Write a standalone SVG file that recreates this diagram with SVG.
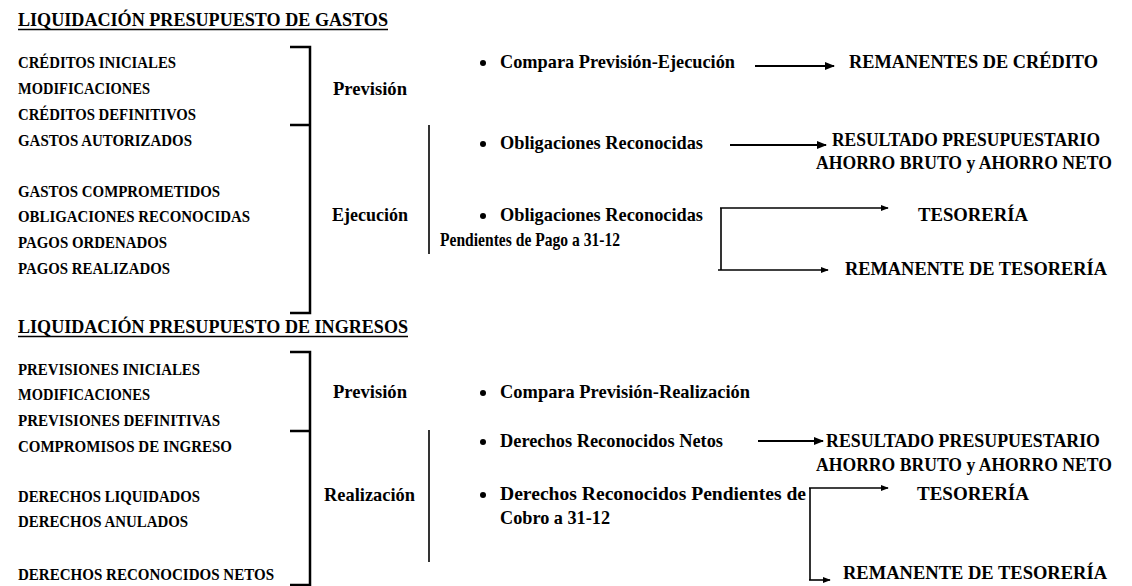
<svg xmlns="http://www.w3.org/2000/svg" width="1132" height="586" viewBox="0 0 1132 586">
  <style>
    text { font-family: "Liberation Serif", "Times New Roman", serif; font-weight: bold; fill: #000; }
    .title { font-size: 19px; }
    .item { font-size: 17px; }
    .phase { font-size: 19px; }
    .note { font-size: 19px; }
    .result { font-size: 19px; }
    .result-wide { font-size: 18px; }
    .brace { fill: none; stroke: #000; stroke-width: 2.5; }
    .rule { fill: none; stroke: #000; stroke-width: 1.6; }
    .arrow { fill: none; stroke: #000; stroke-width: 2; marker-end: url(#head); }
    .branch { fill: none; stroke: #000; stroke-width: 1.6; }
    .branch-arrow { fill: none; stroke: #000; stroke-width: 1.6; marker-end: url(#head); }
    .uline { stroke: #000; stroke-width: 1.5; }
  </style>
  <defs>
    <marker id="head" viewBox="0 0 10 10" refX="9" refY="5" markerWidth="5" markerHeight="5" markerUnits="strokeWidth" orient="auto">
      <path d="M0,1 L10,5 L0,9 Z" fill="#000"/>
    </marker>
  </defs>
  <rect width="1132" height="586" fill="#fff"/>

  <!-- Gastos -->
  <g id="title-gastos">
    <text class="title" x="18" y="26" textLength="370" lengthAdjust="spacingAndGlyphs">LIQUIDACIÓN PRESUPUESTO DE GASTOS</text>
    <line class="uline" x1="18" y1="29.5" x2="388" y2="29.5"/>
  </g>
  <g id="fases-gastos">
    <text class="item" x="18" y="68" textLength="158" lengthAdjust="spacingAndGlyphs">CRÉDITOS INICIALES</text>
    <text class="item" x="18" y="94" textLength="132" lengthAdjust="spacingAndGlyphs">MODIFICACIONES</text>
    <text class="item" x="18" y="120" textLength="178" lengthAdjust="spacingAndGlyphs">CRÉDITOS DEFINITIVOS</text>
    <text class="item" x="18" y="146" textLength="174" lengthAdjust="spacingAndGlyphs">GASTOS AUTORIZADOS</text>
    <text class="item" x="18" y="197" textLength="202" lengthAdjust="spacingAndGlyphs">GASTOS COMPROMETIDOS</text>
    <text class="item" x="18" y="222" textLength="232" lengthAdjust="spacingAndGlyphs">OBLIGACIONES RECONOCIDAS</text>
    <text class="item" x="18" y="248" textLength="149" lengthAdjust="spacingAndGlyphs">PAGOS ORDENADOS</text>
    <text class="item" x="18" y="274" textLength="152" lengthAdjust="spacingAndGlyphs">PAGOS REALIZADOS</text>
  </g>
  <g id="llave-gastos">
    <path class="brace" d="M290,47 H310 V313 H290 M290,125 H310"/>
    <line class="rule" x1="429" y1="125" x2="429" y2="254"/>
  </g>
  <g id="etiquetas-gastos">
    <text class="phase" x="333" y="95" textLength="74" lengthAdjust="spacingAndGlyphs">Previsión</text>
    <text class="phase" x="332" y="221" textLength="76" lengthAdjust="spacingAndGlyphs">Ejecución</text>
  </g>
  <g id="notas-gastos">
    <circle cx="483" cy="63" r="3"/>
    <text class="note" x="500" y="68" textLength="235" lengthAdjust="spacingAndGlyphs">Compara Previsión-Ejecución</text>
    <circle cx="483" cy="144" r="3"/>
    <text class="note" x="500" y="149" textLength="203" lengthAdjust="spacingAndGlyphs">Obligaciones Reconocidas</text>
    <circle cx="483" cy="216" r="3"/>
    <text class="note" x="500" y="221" textLength="203" lengthAdjust="spacingAndGlyphs">Obligaciones Reconocidas</text>
    <text class="note" x="440" y="246" textLength="180" lengthAdjust="spacingAndGlyphs">Pendientes de Pago a 31-12</text>
  </g>
  <g id="resultados-gastos">
    <text class="result" x="849" y="68" textLength="249" lengthAdjust="spacingAndGlyphs">REMANENTES DE CRÉDITO</text>
    <text class="result" x="832" y="146" textLength="268" lengthAdjust="spacingAndGlyphs">RESULTADO PRESUPUESTARIO</text>
    <text class="result-wide" x="816" y="169" textLength="296" lengthAdjust="spacingAndGlyphs">AHORRO BRUTO y AHORRO NETO</text>
    <text class="result" x="918" y="221" textLength="110" lengthAdjust="spacingAndGlyphs">TESORERÍA</text>
    <text class="result" x="845" y="275" textLength="262" lengthAdjust="spacingAndGlyphs">REMANENTE DE TESORERÍA</text>
  </g>

  <!-- Ingresos -->
  <g id="title-ingresos">
    <text class="title" x="18" y="333" textLength="390" lengthAdjust="spacingAndGlyphs">LIQUIDACIÓN PRESUPUESTO DE INGRESOS</text>
    <line class="uline" x1="18" y1="336.5" x2="408" y2="336.5"/>
  </g>
  <g id="fases-ingresos">
    <text class="item" x="18" y="375" textLength="182" lengthAdjust="spacingAndGlyphs">PREVISIONES INICIALES</text>
    <text class="item" x="18" y="400" textLength="132" lengthAdjust="spacingAndGlyphs">MODIFICACIONES</text>
    <text class="item" x="18" y="426" textLength="202" lengthAdjust="spacingAndGlyphs">PREVISIONES DEFINITIVAS</text>
    <text class="item" x="18" y="452" textLength="214" lengthAdjust="spacingAndGlyphs">COMPROMISOS DE INGRESO</text>
    <text class="item" x="18" y="502" textLength="182" lengthAdjust="spacingAndGlyphs">DERECHOS LIQUIDADOS</text>
    <text class="item" x="18" y="527" textLength="170" lengthAdjust="spacingAndGlyphs">DERECHOS ANULADOS</text>
    <text class="item" x="18" y="580" textLength="256" lengthAdjust="spacingAndGlyphs">DERECHOS RECONOCIDOS NETOS</text>
  </g>
  <g id="llave-ingresos">
    <path class="brace" d="M290,352 H310 V585 H290 M290,431 H310"/>
    <line class="rule" x1="429" y1="430" x2="429" y2="562"/>
  </g>
  <g id="etiquetas-ingresos">
    <text class="phase" x="333" y="398" textLength="74" lengthAdjust="spacingAndGlyphs">Previsión</text>
    <text class="phase" x="324" y="501" textLength="91" lengthAdjust="spacingAndGlyphs">Realización</text>
  </g>
  <g id="notas-ingresos">
    <circle cx="483" cy="393" r="3"/>
    <text class="note" x="500" y="398" textLength="250" lengthAdjust="spacingAndGlyphs">Compara Previsión-Realización</text>
    <circle cx="483" cy="442" r="3"/>
    <text class="note" x="500" y="447" textLength="223" lengthAdjust="spacingAndGlyphs">Derechos Reconocidos Netos</text>
    <circle cx="483" cy="495" r="3"/>
    <text class="note" x="500" y="500" textLength="306" lengthAdjust="spacingAndGlyphs">Derechos Reconocidos Pendientes de</text>
    <text class="note" x="500" y="524" textLength="110" lengthAdjust="spacingAndGlyphs">Cobro a 31-12</text>
  </g>
  <g id="resultados-ingresos">
    <text class="result" x="826" y="447" textLength="274" lengthAdjust="spacingAndGlyphs">RESULTADO PRESUPUESTARIO</text>
    <text class="result-wide" x="816" y="471" textLength="296" lengthAdjust="spacingAndGlyphs">AHORRO BRUTO y AHORRO NETO</text>
    <text class="result" x="917" y="500" textLength="112" lengthAdjust="spacingAndGlyphs">TESORERÍA</text>
    <text class="result" x="843" y="579" textLength="264" lengthAdjust="spacingAndGlyphs">REMANENTE DE TESORERÍA</text>
  </g>

  <!-- Conectores -->
  <g id="connectors">
    <line class="arrow" x1="755" y1="66" x2="834" y2="66"/>
    <line class="arrow" x1="730" y1="145" x2="826" y2="145"/>
    <path class="branch" d="M721,208 V270"/>
    <line class="branch-arrow" x1="720" y1="208" x2="888" y2="208"/>
    <line class="branch-arrow" x1="718" y1="270" x2="828" y2="270"/>
    <line class="arrow" x1="758" y1="441" x2="823" y2="441"/>
    <path class="branch" d="M810,488 V580"/>
    <line class="branch-arrow" x1="809" y1="488" x2="888" y2="488"/>
    <line class="branch-arrow" x1="809" y1="580" x2="830" y2="580"/>
  </g>
</svg>
